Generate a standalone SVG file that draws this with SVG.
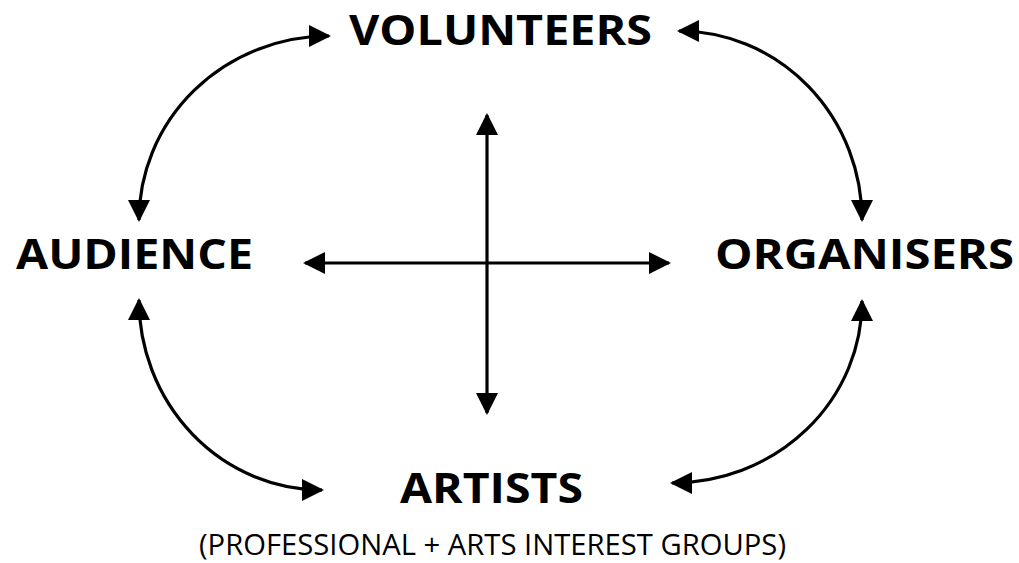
<svg xmlns="http://www.w3.org/2000/svg" width="1019" height="563" viewBox="0 0 1019 563">
  <style>
    .lbl { font-family: "Open Sans", "Liberation Sans", sans-serif; font-weight: 700; font-size: 42px; fill: #000; }
    .sub { font-family: "Open Sans", "Liberation Sans", sans-serif; font-weight: 400; font-size: 29px; fill: #000; }
    .conn { fill: none; stroke: #000; stroke-width: 3.2; }
  </style>
  <defs>
    <marker id="ah" markerUnits="userSpaceOnUse" markerWidth="22" markerHeight="22" viewBox="0 0 22 22" refX="20" refY="11" orient="auto-start-reverse">
      <path d="M0,0 L22,11 L0,22 z" fill="#000"/>
    </marker>
  </defs>
  <rect width="1019" height="563" fill="#fff"/>
  <g id="connectors">
    <path class="conn" d="M 329,36 A 190 184 0 0 0 139,220" marker-start="url(#ah)" marker-end="url(#ah)"/>
    <path class="conn" d="M 679,31 A 183 189 0 0 1 862,220" marker-start="url(#ah)" marker-end="url(#ah)"/>
    <path class="conn" d="M 139,300 A 183 190 0 0 0 322,490" marker-start="url(#ah)" marker-end="url(#ah)"/>
    <path class="conn" d="M 862,301 A 190 182 0 0 1 672,483" marker-start="url(#ah)" marker-end="url(#ah)"/>
    <path class="conn" d="M 487,115 L 487,413" marker-start="url(#ah)" marker-end="url(#ah)"/>
    <path class="conn" d="M 305,263 L 669,263" marker-start="url(#ah)" marker-end="url(#ah)"/>
  </g>
  <g id="volunteers">
    <text class="lbl" x="349" y="45" textLength="303" lengthAdjust="spacingAndGlyphs">VOLUNTEERS</text>
  </g>
  <g id="audience">
    <text class="lbl" x="16" y="269" textLength="237" lengthAdjust="spacingAndGlyphs">AUDIENCE</text>
  </g>
  <g id="organisers">
    <text class="lbl" x="715" y="269" textLength="299" lengthAdjust="spacingAndGlyphs">ORGANISERS</text>
  </g>
  <g id="artists">
    <text class="lbl" x="400" y="503" textLength="183" lengthAdjust="spacingAndGlyphs">ARTISTS</text>
    <text class="sub" x="199" y="555" textLength="587" lengthAdjust="spacingAndGlyphs">(PROFESSIONAL + ARTS INTEREST GROUPS)</text>
  </g>
</svg>
